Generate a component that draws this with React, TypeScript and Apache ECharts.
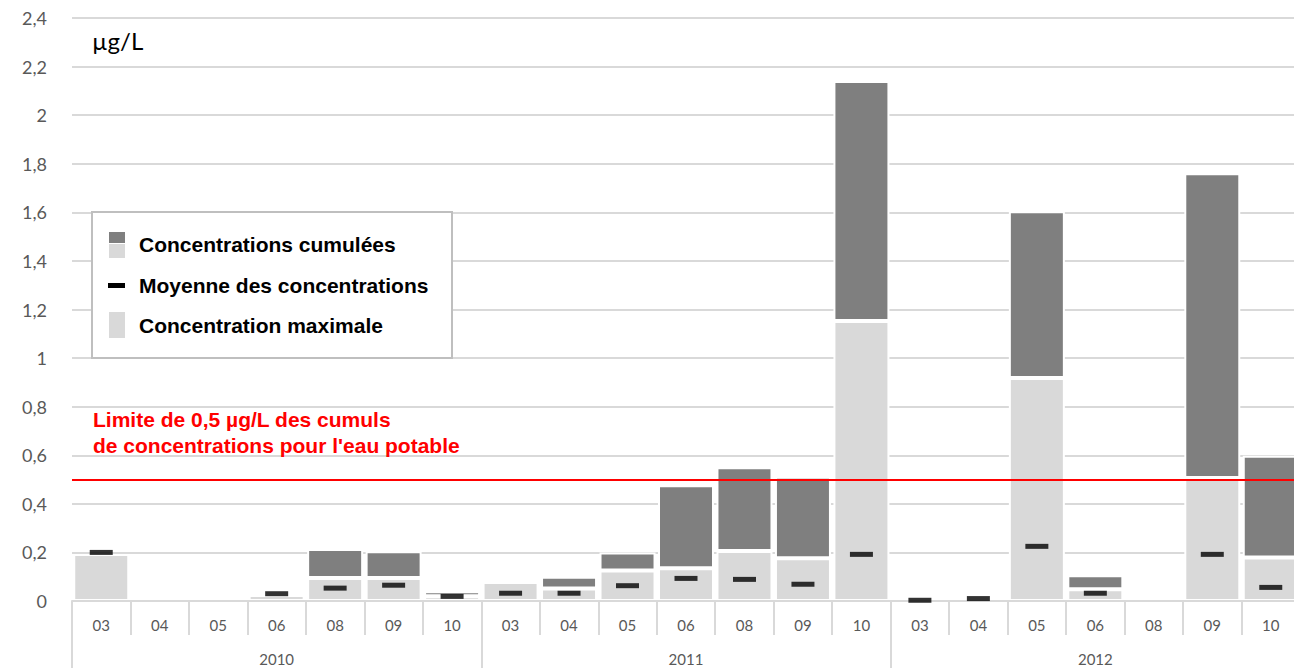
import React, { useEffect, useRef } from "react";
import * as echarts from "echarts";

const months = ["03", "04", "05", "06", "08", "09", "10", "03", "04", "05", "06", "08", "09", "10", "03", "04", "05", "06", "08", "09", "10"];
const years = ["2010", "2011", "2012"];

// Concentration maximale (light part)
const maxConc: (number | null)[] = [
  0.193, null, null, 0.025, 0.095, 0.095, 0.02,
  0.078, 0.051, 0.126, 0.135, 0.206, 0.176, 1.153,
  null, null, 0.918, 0.048, null, 0.506, 0.179,
];
// Concentrations cumulées (total height)
const cumul: (number | null)[] = [
  0.193, null, null, 0.025, 0.214, 0.205, 0.04,
  0.078, 0.1, 0.2, 0.477, 0.551, 0.511, 2.141,
  null, null, 1.604, 0.106, null, 1.761, 0.598,
];
// Moyenne des concentrations
const mean: (number | null)[] = [
  0.2, null, null, 0.03, 0.053, 0.065, 0.019,
  0.032, 0.032, 0.063, 0.093, 0.089, 0.069, 0.192,
  0.003, 0.01, 0.225, 0.032, null, 0.192, 0.056,
];
const limit = 0.5;

const legendLabels = ["Concentrations cumulées", "Moyenne des concentrations", "Concentration maximale"];
const limitText = "Limite de 0,5 µg/L des cumuls\nde concentrations pour l'eau potable";
const unitText = "µg/L";

export default function App() {
  const ref = useRef<HTMLDivElement>(null);
  useEffect(() => {
    if (!ref.current) return;
    const chart = echarts.init(ref.current, undefined, { renderer: "svg" });
    const diff = cumul.map((c, i) => {
      const m = maxConc[i];
      if (c == null || m == null) return null;
      const d = c - m;
      return d > 0.001 ? +d.toFixed(3) : null;
    });
    const labelFont = "Lato, 'Liberation Sans', sans-serif";
    const boldFont = "'Liberation Sans', Arial, sans-serif";
    chart.setOption({
      animation: false,
      backgroundColor: "#ffffff",
      grid: { left: 72, top: 18, right: 0, bottom: 67 },
      xAxis: [
        {
          type: "category",
          data: months,
          z: 3,
          axisLine: { show: true, lineStyle: { color: "#d9d9d9", width: 2 } },
          axisTick: { show: true, interval: 0, length: 34, lineStyle: { color: "#d9d9d9", width: 2 } },
          axisLabel: { interval: 0, color: "#595959", fontSize: 15, fontFamily: labelFont, margin: 16 },
          splitLine: { show: false },
        },
        {
          type: "category",
          data: years,
          position: "bottom",
          z: 3,
          axisLine: { show: false },
          axisTick: { show: true, interval: 0, length: 67, lineStyle: { color: "#d9d9d9", width: 2 } },
          axisLabel: { interval: 0, color: "#595959", fontSize: 15, fontFamily: labelFont, margin: 50 },
          splitLine: { show: false },
        },
      ],
      yAxis: {
        type: "value",
        min: 0,
        max: 2.4,
        interval: 0.2,
        axisLine: { show: false },
        axisTick: { show: false },
        splitLine: { show: true, lineStyle: { color: "#d9d9d9", width: 2 } },
        axisLabel: {
          color: "#595959",
          fontSize: 18,
          fontFamily: labelFont,
          margin: 25,
          formatter: (v: number) => String(+v.toFixed(1)).replace(".", ","),
        },
      },
      series: [
        {
          type: "bar",
          name: "Concentration maximale",
          stack: "c",
          xAxisIndex: 0,
          data: maxConc,
          barWidth: 56,
          itemStyle: { color: "#d9d9d9", borderColor: "#ffffff", borderWidth: 2 },
        },
        {
          type: "bar",
          name: "Concentrations cumulées",
          stack: "c",
          xAxisIndex: 0,
          data: diff,
          barWidth: 56,
          itemStyle: { color: "#7f7f7f", borderColor: "#ffffff", borderWidth: 2 },
        },
        {
          type: "scatter",
          name: "Moyenne des concentrations",
          xAxisIndex: 0,
          data: mean,
          symbol: "rect",
          symbolSize: [23, 5],
          itemStyle: { color: "#000000" },
          z: 5,
          markLine: {
            silent: true,
            symbol: ["none", "none"],
            label: { show: false },
            lineStyle: { color: "#ff0000", width: 2, type: "solid" },
            data: [{ yAxis: limit }],
          },
        },
      ],
      graphic: [
        {
          type: "text",
          x: 92,
          y: 40,
          z: 10,
          style: { text: unitText, font: "24px " + labelFont, fill: "#000000", verticalAlign: "middle" },
        },
        {
          type: "text",
          x: 93,
          y: 406,
          z: 10,
          style: { text: limitText, font: "bold 21px " + boldFont, fill: "#ff0000", lineHeight: 26 },
        },
        {
          type: "group",
          z: 10,
          children: [
            { type: "rect", z: 10, shape: { x: 92, y: 212, width: 360, height: 146 }, style: { fill: "#ffffff", stroke: "#bfbfbf", lineWidth: 2 } },
            { type: "rect", z: 11, shape: { x: 109, y: 232, width: 16, height: 11 }, style: { fill: "#7f7f7f" } },
            { type: "rect", z: 11, shape: { x: 109, y: 244, width: 16, height: 14 }, style: { fill: "#d9d9d9" } },
            { type: "rect", z: 11, shape: { x: 108, y: 283, width: 17, height: 5 }, style: { fill: "#000000" } },
            { type: "rect", z: 11, shape: { x: 109, y: 312, width: 16, height: 26 }, style: { fill: "#d9d9d9" } },
            { type: "text", z: 11, x: 139, y: 244, style: { text: legendLabels[0], font: "bold 21px " + boldFont, fill: "#000000", verticalAlign: "middle" } },
            { type: "text", z: 11, x: 139, y: 285, style: { text: legendLabels[1], font: "bold 21px " + boldFont, fill: "#000000", verticalAlign: "middle" } },
            { type: "text", z: 11, x: 139, y: 325, style: { text: legendLabels[2], font: "bold 21px " + boldFont, fill: "#000000", verticalAlign: "middle" } },
          ],
        },
      ],
    });
    return () => chart.dispose();
  }, []);
  return (
    <div style={{ position: "fixed", left: 0, top: 0, width: 1294, height: 668, overflow: "hidden" }}>
      <div ref={ref} style={{ width: 1300, height: 668 }} />
    </div>
  );
}
